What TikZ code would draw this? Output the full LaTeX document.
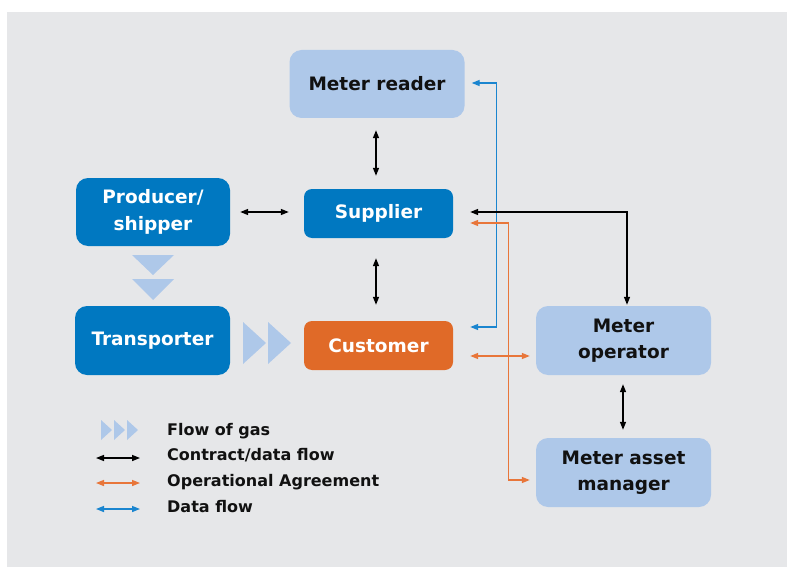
\documentclass[tikz,border=0pt]{standalone}
\usepackage{fontspec}
\setmainfont{DejaVu Sans}
\usetikzlibrary{arrows.meta,calc}

\definecolor{panel}{HTML}{E6E7E9}
\definecolor{darkblue}{HTML}{0078C1}
\definecolor{lightblue}{HTML}{AEC8E9}
\definecolor{custorange}{HTML}{E06A28}
\definecolor{lineblue}{HTML}{1A85CF}
\definecolor{lineorange}{HTML}{E8763A}
\definecolor{ink}{HTML}{111111}

\tikzset{
  box/.style={rounded corners=12pt, inner sep=0pt, align=center,
    font=\fontsize{18.5}{26.5}\selectfont\bfseries},
  smallbox/.style={box, rounded corners=8pt},
  darkbox/.style={fill=darkblue, text=white},
  lightbox/.style={fill=lightblue, text=ink},
  link/.style={line width=1.4pt, {Triangle[length=8pt,width=6pt]}-{Triangle[length=8pt,width=6pt]}},
  contract/.style={link, draw=black},
  operational/.style={link, draw=lineorange},
  dataflow/.style={link, draw=lineblue},
  gas/.style={fill=lightblue},
  legendtext/.style={anchor=base west, inner sep=0pt, text=ink,
    font=\fontsize{16}{19}\selectfont\bfseries}
}

\begin{document}
\begin{tikzpicture}[x=1pt,y=-1pt]
  % page and panel
  \useasboundingbox (0,0) rectangle (787,567);
  \fill[panel] (7,12) rectangle (787,567);

  % parties
  \node[box, lightbox, minimum width=175pt, minimum height=68pt] (reader) at (377,84) {Meter reader};
  \node[box, darkbox, minimum width=154pt, minimum height=68pt] (producer) at (153,212) {Producer/\\shipper};
  \node[smallbox, darkbox, minimum width=149pt, minimum height=49pt] (supplier) at (378.5,213.5) {Supplier};
  \node[box, darkbox, minimum width=155pt, minimum height=69pt] (transporter) at (152.5,340.5) {Transporter};
  \node[smallbox, fill=custorange, text=white, minimum width=149pt, minimum height=49pt] (customer) at (378.5,345.5) {Customer};
  \node[box, lightbox, minimum width=175pt, minimum height=69pt] (operator) at (623.5,340.5) {Meter\\operator};
  \node[box, lightbox, minimum width=175pt, minimum height=69pt] (asset) at (623.5,472.5) {Meter asset\\manager};

  % flow of gas
  \fill[gas] (132,255) -- (174,255) -- (153,275) -- cycle;
  \fill[gas] (132,279) -- (174,279) -- (153,300) -- cycle;
  \fill[gas] (243,322) -- (243,364) -- (266,343) -- cycle;
  \fill[gas] (268,322) -- (268,364) -- (291,343) -- cycle;

  % data flow
  \draw[dataflow] ($(reader.east)+(7,-1)$) -- ++(25,0) |- ($(customer.east)+(17,-18.5)$);

  % contract / data flow
  \draw[contract, shorten <=12pt, shorten >=13pt] (reader.south -| 376,0) -- (supplier.north -| 376,0);
  \draw[contract, shorten <=10pt, shorten >=15pt] (producer.east |- 0,212) -- (supplier.west |- 0,212);
  \draw[contract, shorten <=20pt, shorten >=16pt] (supplier.south -| 376,0) -- (customer.north -| 376,0);
  \draw[contract] ($(supplier.east)+(17,-1.5)$) -| ($(operator.north)+(3.5,-1)$);
  \draw[contract, shorten <=9pt, shorten >=8pt] (operator.south -| 623,0) -- (asset.north -| 623,0);

  % operational agreement
  \draw[operational] ($(supplier.east)+(17,9.5)$) -- ++(38,0) |- ($(asset.west)+(-6,7.5)$);
  \draw[operational] ($(customer.east)+(17,10.5)$) -- ($(operator.west)+(-6,15.5)$);

  % legend
  \fill[gas] (101,420) -- (101,440) -- (112,430) -- cycle;
  \fill[gas] (114,420) -- (114,440) -- (125,430) -- cycle;
  \fill[gas] (127,420) -- (127,440) -- (138,430) -- cycle;
  \coordinate (k1a) at (96,458);  \coordinate (k1b) at (140,458);
  \coordinate (k2a) at (96,483);  \coordinate (k2b) at (140,483);
  \coordinate (k3a) at (96,509);  \coordinate (k3b) at (140,509);
  \draw[contract] (k1a) -- (k1b);
  \draw[operational] (k2a) -- (k2b);
  \draw[dataflow] (k3a) -- (k3b);
  \node[legendtext] (l0) at (167,435) {Flow of gas};
  \node[legendtext] (l1) at (167,460.5) {Contract/data flow};
  \node[legendtext] (l2) at (167,486) {Operational Agreement};
  \node[legendtext] (l3) at (167,512) {Data flow};
\end{tikzpicture}
\end{document}
